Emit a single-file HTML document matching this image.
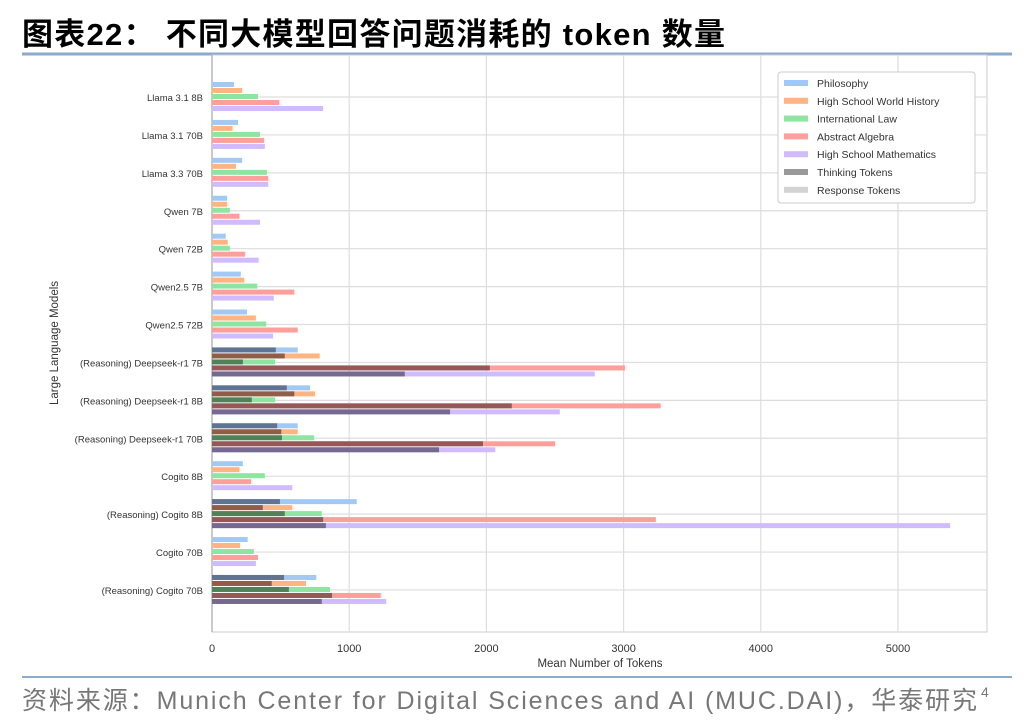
<!DOCTYPE html>
<html><head><meta charset="utf-8"><style>
body{margin:0;background:#fff;width:1036px;height:728px;overflow:hidden;position:relative;font-family:"Liberation Sans","Noto Sans CJK SC",sans-serif}
</style></head><body>
<svg id="chart" width="1036" height="728" style="position:absolute;left:0;top:0">
<text x="22" y="45" font-size="31" font-weight="bold" fill="#000" textLength="703" lengthAdjust="spacing" font-family="Liberation Sans, Noto Sans CJK SC, sans-serif">图表22：  不同大模型回答问题消耗的 token 数量</text>
<text x="22" y="709" font-size="25" fill="#777" textLength="955" lengthAdjust="spacing" font-family="Liberation Sans, Noto Sans CJK SC, sans-serif">资料来源：Munich Center for Digital Sciences and AI (MUC.DAI)，华泰研究</text>
<text x="981" y="697" font-size="14" fill="#777">4</text>
</svg>
<script>
const models=["Llama 3.1 8B","Llama 3.1 70B","Llama 3.3 70B","Qwen 7B","Qwen 72B","Qwen2.5 7B","Qwen2.5 72B","(Reasoning) Deepseek-r1 7B","(Reasoning) Deepseek-r1 8B","(Reasoning) Deepseek-r1 70B","Cogito 8B","(Reasoning) Cogito 8B","Cogito 70B","(Reasoning) Cogito 70B"];
const subjects=["Philosophy","High School World History","International Law","Abstract Algebra","High School Mathematics"];
const totals=[
[160,220,335,490,810],[190,150,350,380,385],[220,175,400,410,410],[110,110,130,200,350],[100,115,130,240,340],
[210,235,330,600,450],[255,320,395,625,445],[625,785,460,3010,2790],[715,750,460,3270,2535],[625,625,745,2500,2065],
[225,200,385,285,585],[1055,585,800,3235,5380],[260,205,305,335,320],[760,685,860,1230,1270]];
const thinking=[
null,null,null,null,null,null,null,[465,530,225,2025,1405],[545,600,290,2185,1735],[475,505,510,1975,1655],
null,[495,370,530,810,830],null,[525,435,560,875,800]];
const xTicks=[0,1000,2000,3000,4000,5000];
const light=["#a1c9f4","#ffb482","#8de5a1","#ff9f9b","#d0bbff"];
const dark=["#5f7393","#8f5e48","#4f8259","#935857","#76698f"];
const NS="http://www.w3.org/2000/svg";
const svg=document.getElementById('chart');
const L=212,R=987,T=55,B=632;
const xs=v=>L+v*0.1372;
const ys=i=>97+i*37.92;
function mk(t,a,p){const e=document.createElementNS(NS,t);for(const k in a)e.setAttribute(k,a[k]);(p||svg).appendChild(e);return e;}
mk('line',{x1:22,x2:1012,y1:54,y2:54,stroke:'#8eaacb','stroke-width':3});
mk('line',{x1:22,x2:1012,y1:677,y2:677,stroke:'#8eaacb','stroke-width':2});
mk('rect',{x:L,y:T,width:R-L,height:B-T,fill:'none',stroke:'#ccc','stroke-width':1});
xTicks.forEach(v=>{
 const g=mk('line',{x1:xs(v),x2:xs(v),y1:T,y2:B,stroke:'#ddd','stroke-width':1.2});
 
 const t=mk('text',{x:xs(v),y:652,'font-size':11,'text-anchor':'middle',fill:'#333'});t.textContent=v;
 
});
models.forEach((m,i)=>{
 const g=mk('line',{x1:L,x2:R,y1:ys(i),y2:ys(i),stroke:'#ddd','stroke-width':1.2});
 
 const t=mk('text',{x:203,y:ys(i)+4,'font-size':9.5,'text-anchor':'end',fill:'#333'});t.textContent=m;
 
});
mk('line',{x1:L,x2:L,y1:T,y2:B,stroke:'#aaa','stroke-width':1.2});
models.forEach((m,i)=>{
 for(let s=0;s<5;s++){
  const y=ys(i)+(s-2)*6-3;
  const b=mk('rect',{x:L,y:y,width:xs(totals[i][s])-L,height:5,fill:light[s]});
  
  if(thinking[i]){
   const d=mk('rect',{x:L,y:y,width:xs(thinking[i][s])-L,height:5,fill:dark[s]});
   
  }
 }
});
const xl=mk('text',{x:600,y:667,'font-size':11.5,'text-anchor':'middle',fill:'#333'});xl.textContent='Mean Number of Tokens';

const yl=mk('text',{x:0,y:0,'font-size':11.5,'text-anchor':'middle',fill:'#333',transform:'translate(58,343) rotate(-90)'});yl.textContent='Large Language Models';

const lg=mk('g',{});
mk('rect',{x:778,y:72,width:197,height:131,fill:'#fff',stroke:'#ccc',rx:3},lg);
const labs=subjects.concat(["Thinking Tokens","Response Tokens"]);
const lc=light.concat(["#999","#d3d3d3"]);
labs.forEach((l,k)=>{
 const y=83+k*17.8;
 const e=mk('g',{},lg);
 mk('rect',{x:784,y:y-3,width:24,height:6,fill:lc[k]},e);
 const t=mk('text',{x:817,y:y+4,'font-size':10.5,fill:'#333'},e);t.textContent=l;
});
</script>
</body></html>
